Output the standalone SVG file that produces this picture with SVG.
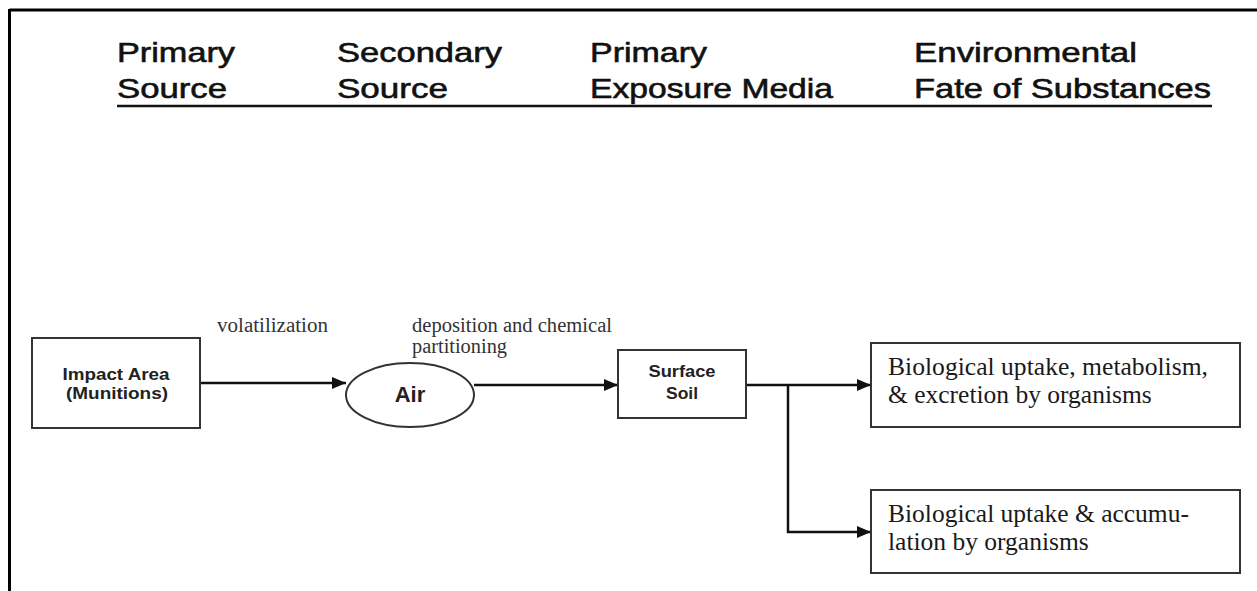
<svg xmlns="http://www.w3.org/2000/svg" width="1257" height="591" viewBox="0 0 1257 591">
<defs>
<style>
.hdr{font-family:"Liberation Sans",Arial,sans-serif;font-size:28px;font-weight:normal;fill:#111;stroke:#111;stroke-width:0.6}
.nb{font-family:"Liberation Sans",Arial,sans-serif;font-weight:bold;fill:#222;text-anchor:middle}
.lbl{font-family:"Liberation Serif","Times New Roman",serif;font-size:20px;fill:#333}
.bt{font-family:"Liberation Serif","Times New Roman",serif;font-size:25.5px;fill:#1a1a1a}
.box{fill:#fff;stroke:#333;stroke-width:2}
.con{fill:none;stroke:#111;stroke-width:2.5}
</style>
<marker id="ah" markerWidth="14" markerHeight="12" refX="14" refY="6" orient="auto" markerUnits="userSpaceOnUse">
<path d="M0,0 L14,6 L0,12 Z" fill="#111"/>
</marker>
</defs>
<rect x="0" y="0" width="1257" height="591" fill="#fff"/>
<g id="frame" stroke="#000" stroke-width="3" fill="none">
<line x1="9.5" y1="10" x2="1257" y2="10"/>
<line x1="9.5" y1="9" x2="9.5" y2="591"/>
</g>
<g id="headers">
<text class="hdr" x="117" y="62" textLength="118" lengthAdjust="spacingAndGlyphs">Primary</text>
<text class="hdr" x="117" y="98" textLength="110" lengthAdjust="spacingAndGlyphs">Source</text>
<text class="hdr" x="337" y="62" textLength="165" lengthAdjust="spacingAndGlyphs">Secondary</text>
<text class="hdr" x="337" y="98" textLength="111" lengthAdjust="spacingAndGlyphs">Source</text>
<text class="hdr" x="590" y="62" textLength="117" lengthAdjust="spacingAndGlyphs">Primary</text>
<text class="hdr" x="590" y="98" textLength="243" lengthAdjust="spacingAndGlyphs">Exposure Media</text>
<text class="hdr" x="914" y="62" textLength="223" lengthAdjust="spacingAndGlyphs">Environmental</text>
<text class="hdr" x="914" y="98" textLength="297" lengthAdjust="spacingAndGlyphs">Fate of Substances</text>
<line x1="117" y1="106" x2="1212" y2="106" stroke="#111" stroke-width="2.5"/>
</g>
<g id="connectors">
<line class="con" x1="200" y1="383" x2="346" y2="383" marker-end="url(#ah)"/>
<line class="con" x1="474" y1="385" x2="618" y2="385" marker-end="url(#ah)"/>
<line class="con" x1="746" y1="385" x2="871" y2="385" marker-end="url(#ah)"/>
<path class="con" d="M788,385 V532 H871" marker-end="url(#ah)"/>
<text class="lbl" x="217" y="332" textLength="111" lengthAdjust="spacingAndGlyphs">volatilization</text>
<text class="lbl" x="412" y="332" textLength="200" lengthAdjust="spacingAndGlyphs">deposition and chemical</text>
<text class="lbl" x="412" y="353" textLength="95" lengthAdjust="spacingAndGlyphs">partitioning</text>
</g>
<g id="impact-area">
<rect class="box" x="32" y="338" width="168" height="90"/>
<text class="nb" x="116" y="380" font-size="16" textLength="107" lengthAdjust="spacingAndGlyphs">Impact Area</text>
<text class="nb" x="117" y="399" font-size="16" textLength="102" lengthAdjust="spacingAndGlyphs">(Munitions)</text>
</g>
<g id="air">
<ellipse cx="410" cy="395" rx="64" ry="32" fill="#fff" stroke="#333" stroke-width="2"/>
<text class="nb" x="410" y="402" font-size="22">Air</text>
</g>
<g id="surface-soil">
<rect class="box" x="618" y="350" width="128" height="68"/>
<text class="nb" x="682" y="377" font-size="16" textLength="67" lengthAdjust="spacingAndGlyphs">Surface</text>
<text class="nb" x="682" y="399" font-size="16" textLength="32" lengthAdjust="spacingAndGlyphs">Soil</text>
</g>
<g id="fate-metabolism">
<rect class="box" x="871" y="343" width="369" height="84"/>
<text class="bt" x="888" y="375" textLength="320" lengthAdjust="spacingAndGlyphs">Biological uptake, metabolism,</text>
<text class="bt" x="888" y="403">&amp; excretion by organisms</text>
</g>
<g id="fate-accumulation">
<rect class="box" x="871" y="490" width="369" height="83"/>
<text class="bt" x="888" y="522">Biological uptake &amp; accumu-</text>
<text class="bt" x="888" y="550">lation by organisms</text>
</g>
</svg>
